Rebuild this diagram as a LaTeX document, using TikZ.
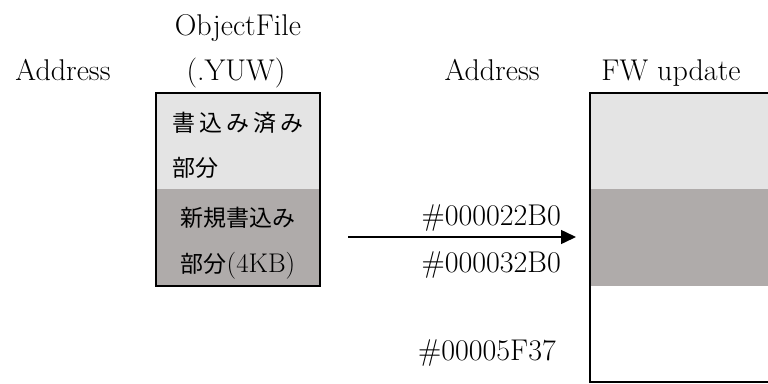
\documentclass[tikz,border=0pt]{standalone}
\usepackage{fontspec}
\newfontfamily\jafont{Noto Sans CJK JP}
\usetikzlibrary{arrows.meta}
\definecolor{written}{HTML}{E4E4E4}
\definecolor{newpart}{HTML}{AFABAA}
\tikzset{
  lbl/.style={inner sep=0pt, anchor=base, font=\fontsize{30}{36}\selectfont},
  jlbl/.style={inner sep=0pt, anchor=base, font=\fontsize{23}{28}\selectfont\jafont},
  frame/.style={draw=black, line width=2pt},
  link/.style={line width=1.5pt, -{Triangle[length=15pt,width=14pt]}}
}
\begin{document}
\begin{tikzpicture}[x=1pt,y=-1pt]
\useasboundingbox (0,0) rectangle (768,383);
\clip (0,0) rectangle (768,383);

% column headings
\node[lbl] (objfile) at (238,35) {ObjectFile};
\node[lbl] (addrL) at (63,80) {Address};
\node[lbl] (yuw) at (236,80) {(.YUW)};
\node[lbl] (addrR) at (492,80) {Address};
\node[lbl] (fw) at (671,80) {FW update};

% object file block
\fill[written] (156,93) rectangle (320,189);
\fill[newpart] (156,189) rectangle (320,286);
\draw[frame] (156,93) rectangle (320,286);
\node[jlbl, anchor=base west] (w1) at (172,131) {\makebox[131pt][l]{書\hfill 込\hfill み\hfill 済\hfill み}};
\node[jlbl, anchor=base west] (w2) at (172,176) {部分};
\node[jlbl] (n1) at (238,226) {新規書込み};
\node[jlbl] (n2) at (238,272) {部分{\normalfont\fontsize{27}{30}\selectfont(4KB)}};

% firmware update area
\fill[written] (590,93) rectangle (780,189);
\fill[newpart] (590,189) rectangle (780,286);
\draw[frame] (780,93) -- (590,93) -- (590,382) -- (780,382);

% addresses
\node[lbl, anchor=base east] (a1) at (561,225) {\#000022B0};
\node[lbl, anchor=base east] (a2) at (561,272) {\#000032B0};
\node[lbl, anchor=base east] (a3) at (556,360) {\#00005F37};

% transfer arrow
\coordinate (src) at (348,237);
\coordinate (dst) at (576,237);
\draw[link] (src) -- (dst);
\end{tikzpicture}
\end{document}
